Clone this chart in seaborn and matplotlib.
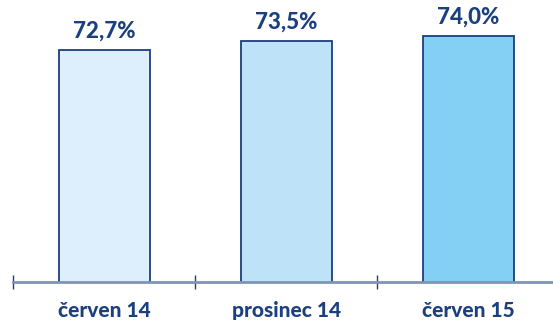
import matplotlib
matplotlib.use('Agg')
import matplotlib.pyplot as plt
import seaborn as sns
import pandas as pd

# Data
categories = ['červen 14', 'prosinec 14', 'červen 15']
values = [72.7, 73.5, 74.0]
labels = ['72,7%', '73,5%', '74,0%']
bar_colors = ['#DDEFFC', '#BEE3F8', '#84CFF4']

navy = '#1C3F7E'

sns.set_style('white')
plt.rcParams['font.family'] = ['Lato', 'DejaVu Sans']

df = pd.DataFrame({'period': categories, 'share': values})

fig = plt.figure(figsize=(5.53, 3.21), dpi=100)
# axes spans from first tick (x=13px) past the right edge, baseline at y=282px
ax = fig.add_axes([13 / 553, (321 - 282) / 321, 546.6 / 553, 282 / 321])

sns.barplot(data=df, x='period', y='share', hue='period', palette=bar_colors,
            legend=False, width=0.5, saturation=1, edgecolor=navy,
            linewidth=1.3, ax=ax)

ax.set_xlim(-0.5, 2.5)
ax.set_ylim(50.7, 77.4)

for i, (v, lab) in enumerate(zip(values, labels)):
    ax.text(i, v + 0.8, lab, ha='center', va='bottom', color=navy,
            fontsize=16, fontweight='black')

for side in ['top', 'right', 'left']:
    ax.spines[side].set_visible(False)
ax.spines['bottom'].set_color('#7F95B5')
ax.spines['bottom'].set_linewidth(2)

ax.set_yticks([])
ax.set_xlabel('')
ax.set_ylabel('')
ax.set_xticks(range(len(categories)))
ax.set_xticklabels(categories, fontsize=15, fontweight='black', color=navy)
ax.tick_params(axis='x', which='major', bottom=False, length=0, pad=14)
ax.set_xticks([-0.5, 0.5, 1.5], minor=True)
ax.tick_params(axis='x', which='minor', bottom=True, direction='inout',
               length=10, width=1, color=navy)

fig.savefig('out.png', dpi=100)
